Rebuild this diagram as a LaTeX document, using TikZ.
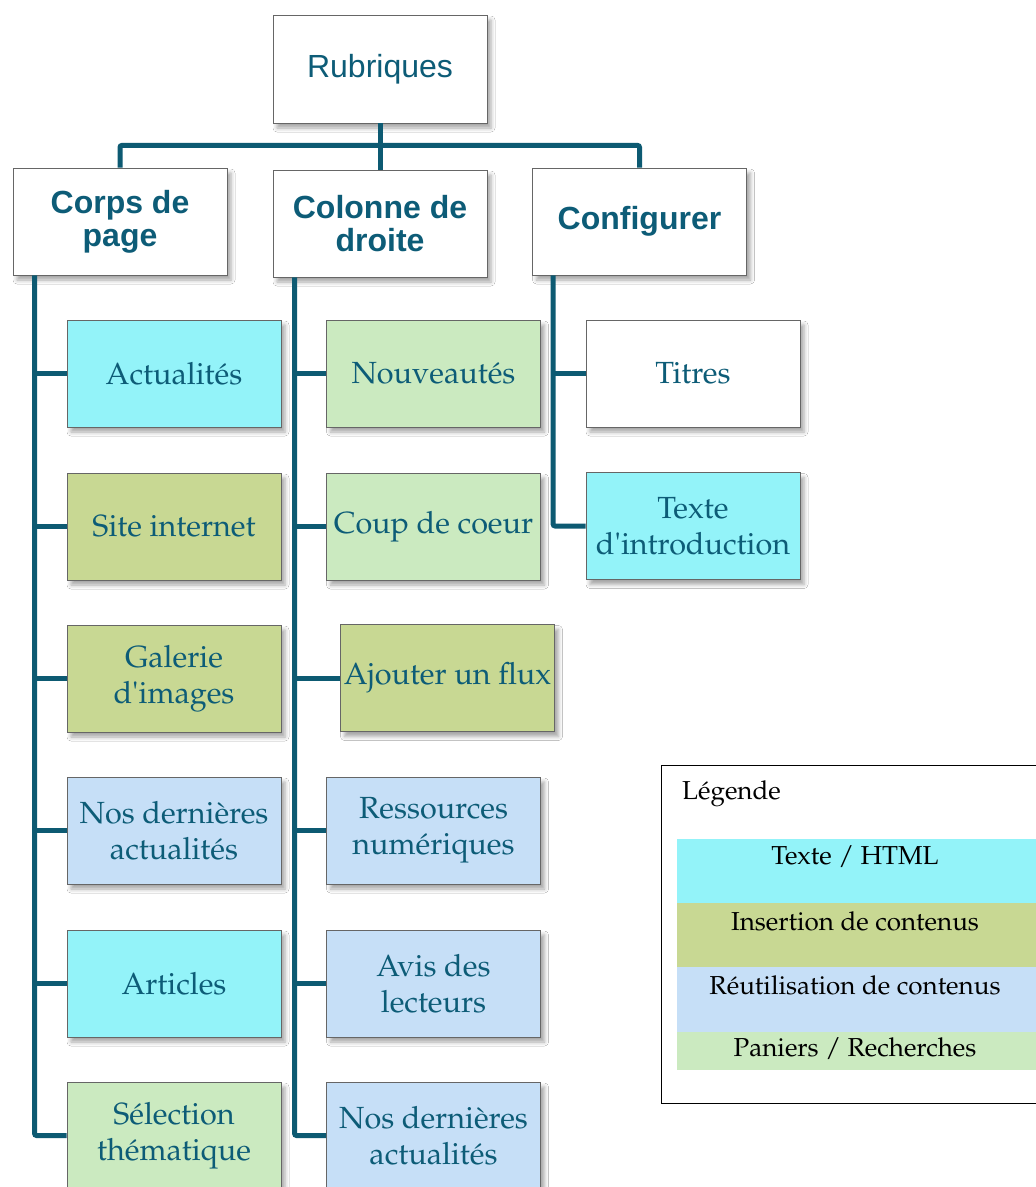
\documentclass[tikz,border=0pt]{standalone}
\usepackage[T1]{fontenc}
\usepackage{textcomp}
\usepackage{fontspec}
\newfontfamily\hsans{Liberation Sans}
\newcommand\palfont{\fontencoding{T1}\fontfamily{ppl}\selectfont}
\newcommand\apos{{\fontencoding{TS1}\fontfamily{ppl}\selectfont\char39}}
\usetikzlibrary{shadows.blur}
\definecolor{tealtext}{HTML}{0D5C77}
\definecolor{linecol}{HTML}{0D5A72}
\definecolor{ccyan}{HTML}{93F3F9}
\definecolor{colive}{HTML}{C8D893}
\definecolor{cblue}{HTML}{C6DFF7}
\definecolor{cgreen}{HTML}{CBEAC0}
\tikzset{
  box/.style={draw=black!60, line width=0.8pt, minimum width=214pt, minimum height=107pt,
    inner sep=2pt, align=center, text=tealtext,
    blur shadow={shadow xshift=4pt, shadow yshift=-5pt, shadow blur radius=4pt, shadow opacity=35}},
  head/.style={box, fill=white, font=\hsans\bfseries\fontsize{32}{33}\selectfont},
  leaf/.style={box, font=\palfont\fontsize{30.6}{36}\selectfont},
  conn/.style={draw=linecol, line width=5pt, rounded corners=2pt},
  legtext/.style={font=\palfont\fontsize{26}{28}\selectfont, text=black, inner sep=0pt},
}
\begin{document}
\begin{tikzpicture}[x=1pt,y=-1pt]
\fill[white] (0,0) rectangle (1036,1187);
\useasboundingbox (0,0) rectangle (1036,1187);
% top level
\node[box, fill=white, minimum height=108pt, font=\hsans\fontsize{32}{34}\selectfont] (rub) at (380,69) {Rubriques};
\node[head] (corps) at (120,221.5) {Corps de\\page};
\node[head] (col) at (380,223.5) {Colonne de\\droite};
\node[head] (conf) at (639.5,221.5) {Configurer};
% corps children
\node[leaf, fill=ccyan]  (act)  at (174,373.5)  {Actualités};
\node[leaf, fill=colive] (site) at (174,526.5)  {Site internet};
\node[leaf, fill=colive] (gal)  at (174,678.5)  {Galerie\\d\apos images};
\node[leaf, fill=cblue]  (nos1) at (174,830.5)  {Nos dernières\\actualités};
\node[leaf, fill=ccyan]  (art)  at (174,983.5)  {Articles};
\node[leaf, fill=cgreen] (sel)  at (174,1135.5) {Sélection\\thématique};
% colonne children
\node[leaf, fill=cgreen] (nouv) at (433.5,373.5)  {Nouveautés};
\node[leaf, fill=cgreen] (coup) at (433.5,526.5)  {Coup de coeur};
\node[leaf, fill=colive] (flux) at (447.5,678)    {Ajouter un flux};
\node[leaf, fill=cblue]  (res)  at (433.5,830.5)  {Ressources\\numériques};
\node[leaf, fill=cblue]  (avis) at (433.5,983.5)  {Avis des\\lecteurs};
\node[leaf, fill=cblue]  (nos2) at (433.5,1135.5) {Nos dernières\\actualités};
% configurer children
\node[leaf, fill=white]  (tit)  at (693,373.5) {Titres};
\node[leaf, fill=ccyan]  (intro) at (693,526)  {Texte\\d\apos introduction};
% connectors
\coordinate (bar) at ([yshift=-22pt]rub.south);
\draw[conn] (corps.north) |- (bar) -| (conf.north);
\draw[conn] (rub.south) -- (col.north);
\coordinate (t1) at ([xshift=22pt]corps.south west);
\coordinate (t2) at ([xshift=22pt]col.south west);
\coordinate (t3) at ([xshift=21pt]conf.south west);
\draw[conn] (t1) |- (sel.west);
\foreach \n in {act,site,gal,nos1,art} \draw[conn] (t1 |- \n.west) -- (\n.west);
\draw[conn] (t2) |- (nos2.west);
\foreach \n in {nouv,coup,flux,res,avis} \draw[conn] (t2 |- \n.west) -- (\n.west);
\draw[conn] (t3) |- (intro.west);
\draw[conn] (t3 |- tit.west) -- (tit.west);
% legend
\node[draw=black, line width=1pt, minimum width=380pt, minimum height=338pt, inner sep=0pt] (leg) at (851,934) {};
\node[legtext, anchor=west] (legt) at (682,794) {Légende};
\fill[ccyan]  (677,839) rectangle (1036,903);
\fill[colive] (677,903) rectangle (1036,967);
\fill[cblue]  (677,967) rectangle (1036,1032);
\fill[cgreen] (677,1032) rectangle (1036,1070);
\node[legtext] (l1) at (855,857)  {Texte / HTML};
\node[legtext] (l2) at (855,921)  {Insertion de contenus};
\node[legtext] (l3) at (855,985)  {Réutilisation de contenus};
\node[legtext] (l4) at (855,1049) {Paniers / Recherches};
\end{tikzpicture}
\end{document}
